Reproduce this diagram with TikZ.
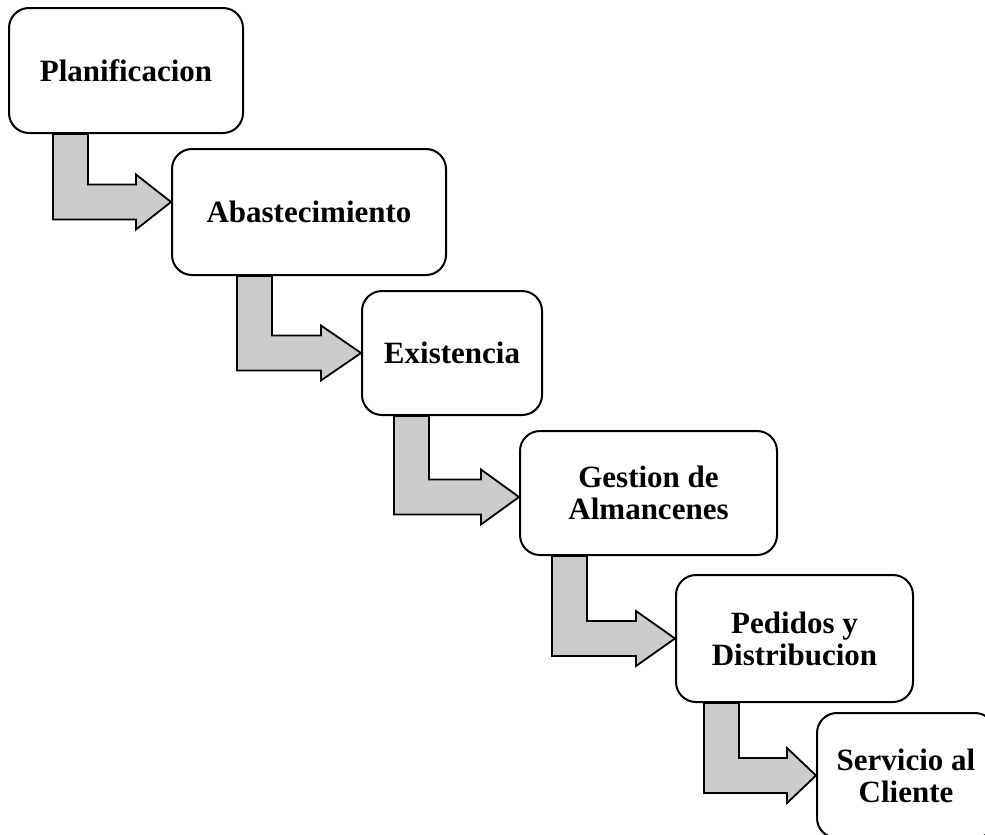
\documentclass[tikz,border=0pt]{standalone}
\usepackage{fontspec}
\setmainfont{Liberation Serif}
\usetikzlibrary{calc,backgrounds}
\definecolor{arrowgray}{RGB}{204,204,204}
\tikzset{
  stage/.style={draw=black, line width=2pt, rounded corners=20pt, fill=white,
    inner sep=0pt, align=center, font=\fontsize{31}{32}\selectfont\bfseries},
  flowarrow/.style={draw=black, line width=1.8pt, fill=arrowgray, line join=miter},
}
% Bent block arrow leaving the bottom of #1 and pointing at the left side of #2.
% #3: offset of the bar from the left side of #1, #4: raise of the tip, #5: head length
\newcommand{\stagearrow}[5]{%
  \draw[flowarrow] let \p1=(#1.south west), \p2=(#2.west),
      \p3=($(#2.west)+(0pt,#4pt)$) in
    ({\x1+#3pt}, \y1)
    -- ({\x1+#3pt}, {\y3-17.5pt})
    -- ({\x2-#5pt}, {\y3-17.5pt})
    -- ({\x2-#5pt}, {\y3-27.5pt})
    -- (\x2, \y3)
    -- ({\x2-#5pt}, {\y3+27.5pt})
    -- ({\x2-#5pt}, {\y3+17.5pt})
    -- ({\x1+#3pt+35pt}, {\y3+17.5pt})
    -- ({\x1+#3pt+35pt}, \y1)
    -- cycle;
}
\begin{document}
\begin{tikzpicture}[x=1pt, y=-1pt]
  \useasboundingbox (0,0) rectangle (985,835);
  \clip (0,0) rectangle (985,835);

  % process stages
  \node[stage, minimum width=234pt, minimum height=125pt] (plan) at (126,70.5) {Planificacion};
  \node[stage, minimum width=274pt, minimum height=126pt] (abas) at (309,212) {Abastecimiento};
  \node[stage, minimum width=180pt, minimum height=124pt] (exis) at (452,353) {Existencia};
  \node[stage, minimum width=257pt, minimum height=124pt] (gest) at (648.5,493) {Gestion de\\Almancenes};
  \node[stage, minimum width=237pt, minimum height=127pt] (pedi) at (794.5,638.5) {Pedidos y\\Distribucion};
  \node[stage, minimum width=178pt, minimum height=125pt] (serv) at (906,775.5) {Servicio al\\Cliente};

  % connecting arrows behind the stages
  \begin{scope}[on background layer]
    \stagearrow{plan}{abas}{45}{10}{35}
    \stagearrow{abas}{exis}{66}{0}{40}
    \stagearrow{exis}{gest}{33}{-4}{38}
    \stagearrow{gest}{pedi}{33}{0}{39}
    \stagearrow{pedi}{serv}{29}{0}{29}
  \end{scope}
\end{tikzpicture}
\end{document}
